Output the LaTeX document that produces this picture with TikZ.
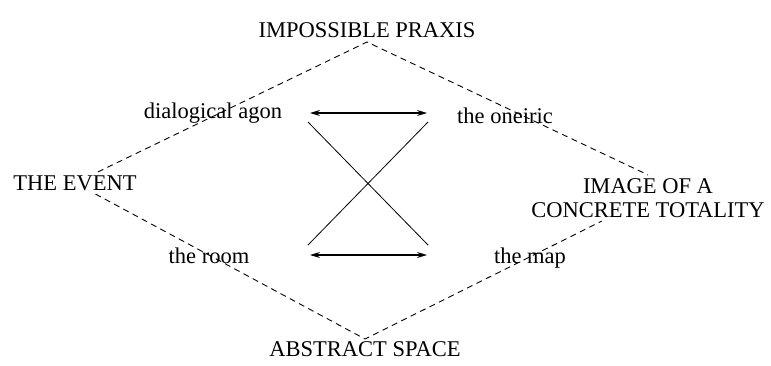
\documentclass[tikz,border=0pt]{standalone}
\usepackage{fontspec}
\setmainfont{Liberation Serif}
\usetikzlibrary{positioning,arrows.meta}
\begin{document}
\begin{tikzpicture}[x=1pt, y=-1pt, font=\fontsize{22.5}{24}\selectfont, line join=round, >={Stealth[length=10pt,width=6pt]}]
	\tikzset{dashline/.style={dash pattern=on 6pt off 4.5pt, line width=0.9pt}}
	\useasboundingbox (0,0) rectangle (771,365);
	\path
	(367,42) coordinate (P)
	(365,339) coordinate (Q)
	(310,113) coordinate (A_1)
	(427,113) coordinate (A_2)
	(310,255) coordinate (B_1)
	(427,255) coordinate (B_2)
	(308,122) coordinate (X_1)
	(428,122) coordinate (X_2)
	(308,245) coordinate (X_3)
	(428,245) coordinate (X_4)
	;
	\node[above=1pt of P] (praxis) {IMPOSSIBLE PRAXIS};
	\node[below=-1pt of Q] (abstract) {ABSTRACT SPACE};
	\node (event) at (75,183) {THE EVENT};
	\node[align=center] (image) at (648,198) {IMAGE OF A\\CONCRETE TOTALITY};
	\node (agon) at (213,113) {dialogical agon};
	\node (oneiric) at (505,116) {the oneiric};
	\node (room) at (209,256) {the room};
	\node (map) at (530,258) {the map};
	\draw[dashline] (event) -- (P) -- (image.north);
	\draw[dashline] (event) -- (Q) -- (image);
	\draw[<->, line width=1.2pt] (A_1) -- (A_2);
	\draw[<->, line width=1.2pt] (B_1) -- (B_2);
	\draw[line width=0.8pt] (X_1) -- (X_4);
	\draw[line width=0.8pt] (X_2) -- (X_3);
\end{tikzpicture}
\end{document}
